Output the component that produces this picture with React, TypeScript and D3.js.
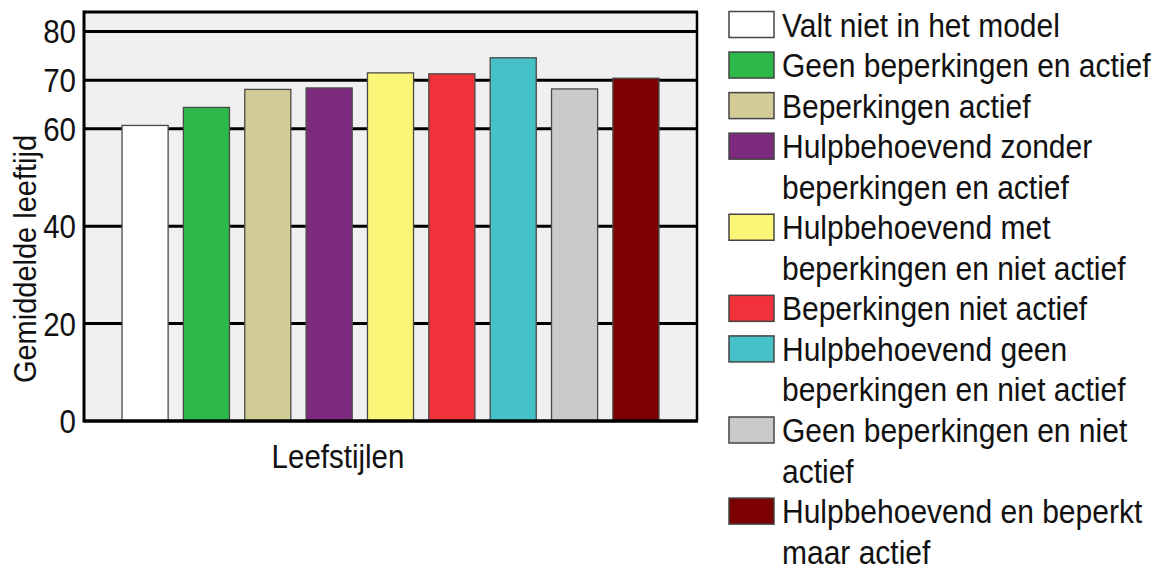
import React from "react";
import * as d3 from "d3";

const categories = [
  "Valt niet in het model",
  "Geen beperkingen en actief",
  "Beperkingen actief",
  "Hulpbehoevend zonder\nbeperkingen en actief",
  "Hulpbehoevend met\nbeperkingen en niet actief",
  "Beperkingen niet actief",
  "Hulpbehoevend geen\nbeperkingen en niet actief",
  "Geen beperkingen en niet\nactief",
  "Hulpbehoevend en beperkt\nmaar actief",
];
const values = [60.7, 64.4, 68.1, 68.4, 71.5, 71.3, 74.6, 68.2, 70.4];
const colors = [
  "#ffffff",
  "#2db84a",
  "#d4cc96",
  "#7b2a7d",
  "#fbf578",
  "#f1323a",
  "#45c1c7",
  "#cacaca",
  "#7d0000",
];
const yTicks = [0, 20, 40, 60, 70, 80];
const yLabel = "Gemiddelde leeftijd";
const xLabel = "Leefstijlen";

const W = 1159;
const H = 571;
const left = 84;
const right = 697;
const top = 12;
const bottom = 421;
const font = "'Liberation Sans', Arial, Helvetica, sans-serif";
const textColor = "#111";

export default function App() {
  const y = d3.scaleLinear().domain([0, 84]).range([bottom, top]);
  const x = d3
    .scaleBand<number>()
    .domain(d3.range(values.length))
    .range([left, right])
    .paddingInner(0.249)
    .paddingOuter(0.62);

  const legendX = 729;
  const legendTextX = 782;
  const firstBaseline = 36.5;
  const lineH = 40.55;
  let lineIdx = 0;
  const legendItems = categories.map((c, i) => {
    const lines = c.split("\n");
    const start = lineIdx;
    lineIdx += lines.length;
    return { lines, start, color: colors[i] };
  });

  return (
    <svg
      width={W}
      height={H}
      style={{ position: "absolute", left: 0, top: 0, background: "#fff" }}
    >
      <rect x={left} y={top} width={right - left} height={bottom - top} fill="#f0f0f0" />
      {yTicks
        .filter((t) => t !== 0)
        .map((t) => (
          <line key={t} x1={left} x2={right} y1={y(t)} y2={y(t)} stroke="#000" strokeWidth={3} />
        ))}
      {values.map((v, i) => (
        <rect
          key={i}
          x={x(i)}
          y={y(v)}
          width={x.bandwidth()}
          height={y(0) - y(v)}
          fill={colors[i]}
          stroke="#4a4a4a"
          strokeWidth={1.3}
        />
      ))}
      <line x1={left} x2={right + 1} y1={top} y2={top} stroke="#000" strokeWidth={3} />
      <line x1={right} x2={right} y1={top} y2={bottom} stroke="#000" strokeWidth={2.5} />
      <line x1={left} x2={left} y1={top - 1.5} y2={bottom + 1.5} stroke="#000" strokeWidth={3} />
      <line x1={left} x2={right + 1} y1={bottom} y2={bottom} stroke="#000" strokeWidth={3.5} />
      {yTicks.map((t) => (
        <g key={t} transform={`translate(76, ${y(t) + 12}) scale(1, 1.1)`}>
          <text textAnchor="end" fontFamily={font} fontSize={29.5} fill={textColor}>
            {t}
          </text>
        </g>
      ))}
      <g transform={`translate(36, 259) rotate(-90) scale(1, 1.1)`}>
        <text textAnchor="middle" fontFamily={font} fontSize={29} fill={textColor}>
          {yLabel}
        </text>
      </g>
      <g transform={`translate(338, 468) scale(1, 1.1)`}>
        <text textAnchor="middle" fontFamily={font} fontSize={29.5} fill={textColor}>
          {xLabel}
        </text>
      </g>
      {legendItems.map((item, i) => {
        const b = firstBaseline + item.start * lineH;
        return (
          <g key={i}>
            <rect
              x={legendX}
              y={b - 25}
              width={45}
              height={26}
              fill={item.color}
              stroke="#444"
              strokeWidth={1.5}
            />
            {item.lines.map((ln, j) => (
              <g key={j} transform={`translate(${legendTextX}, ${b + j * lineH}) scale(1, 1.08)`}>
                <text fontFamily={font} fontSize={30} fill={textColor}>
                  {ln}
                </text>
              </g>
            ))}
          </g>
        );
      })}
    </svg>
  );
}
